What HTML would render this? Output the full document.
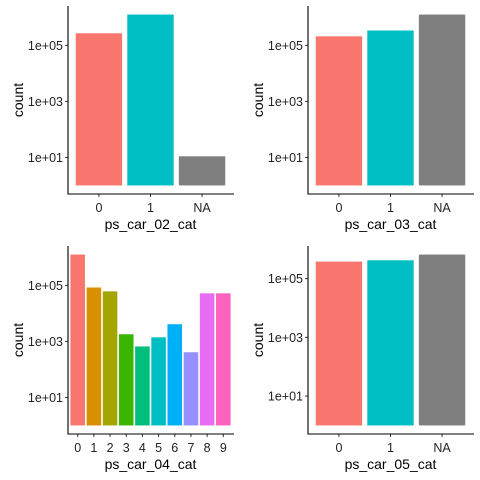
<!DOCTYPE html>
<html><head><meta charset="utf-8"><style>
html,body{margin:0;padding:0;background:#fff;}
svg{display:block;font-family:"Liberation Sans",Arial,sans-serif;}
</style></head><body>
<svg id="chart" width="480" height="480" viewBox="0 0 480 480"></svg>
<script>
const cats02 = ["0","1","NA"];
const vals02 = [270000, 1260000, 11];
const cats03 = ["0","1","NA"];
const vals03 = [210000, 340000, 1260000];
const cats04 = ["0","1","2","3","4","5","6","7","8","9"];
const vals04 = [1260000, 84000, 61000, 1800, 660, 1400, 4100, 410, 52000, 52000];
const cats05 = ["0","1","NA"];
const vals05 = [380000, 420000, 660000];
const yTicks = [1e1, 1e3, 1e5];
const yTickLabels = ["1e+01","1e+03","1e+05"];
const col3 = ["#F8766D","#00BFC4","#7F7F7F"];
const col10 = ["#F8766D","#D89000","#A3A500","#39B600","#00BF7D","#00BFC4","#00B0F6","#9590FF","#E76BF3","#FF62BC"];
const NS = "http://www.w3.org/2000/svg";
const svg = document.getElementById("chart");
function mk(tag, attrs, parent){const e=document.createElementNS(NS,tag);for(const k in attrs)e.setAttribute(k,attrs[k]);parent.appendChild(e);return e;}
function panel(ox, oy, cats, vals, cols, title, name){
  const g = mk("g",{transform:`translate(${ox},${oy})`},svg);
  
  
  const L=68,R=233,T=6,B=194;
  const maxL = Math.max(...vals.map(v=>Math.log10(v)));
  const lo = -0.05*maxL, hi = maxL*1.05;
  const y = v => B - (Math.log10(v)-lo)/(hi-lo)*(B-T);
  const n = cats.length, step=(R-L)/(n-1+1.2);
  const x = i => L + (0.6+i)*step;
  vals.forEach((v,i)=>{
    const r = mk("rect",{x:x(i)-0.45*step,y:y(v),width:0.9*step,height:y(1)-y(v),fill:cols[i%cols.length]},g);
    
    
    const tl = mk("text",{x:x(i),y:B+18,"text-anchor":"middle","font-size":"12.5","fill":"#222"},g);
    tl.textContent = cats[i];
    
    
    mk("line",{x1:x(i),x2:x(i),y1:B,y2:B+3,stroke:"#333","stroke-width":1},g);
  });
  yTicks.forEach((t,i)=>{
    mk("line",{x1:L-3,x2:L,y1:y(t),y2:y(t),stroke:"#333","stroke-width":1},g);
    const tl = mk("text",{x:L-5,y:y(t)+4.5,"text-anchor":"end","font-size":"12.5","fill":"#222"},g);
    tl.textContent = yTickLabels[i];
    
    
  });
  const ax = mk("path",{d:`M${L},${T}V${B}H${R+1}`,fill:"none",stroke:"#000","stroke-width":1.1},g);
  
  
  const xt = mk("text",{x:(L+R)/2,y:229,"text-anchor":"middle","font-size":"14","fill":"#000"},g);
  xt.textContent = title;
  
  
  const yt = mk("text",{x:0,y:0,transform:`translate(23,${(T+B)/2}) rotate(-90)`,"text-anchor":"middle","font-size":"14","fill":"#000"},g);
  yt.textContent = "count";
  
  
}
panel(0,0,cats02,vals02,col3,"ps_car_02_cat","panel-ps-car-02-cat");
panel(240,0,cats03,vals03,col3,"ps_car_03_cat","panel-ps-car-03-cat");
panel(0,240,cats04,vals04,col10,"ps_car_04_cat","panel-ps-car-04-cat");
panel(240,240,cats05,vals05,col3,"ps_car_05_cat","panel-ps-car-05-cat");
</script>
</body></html>
